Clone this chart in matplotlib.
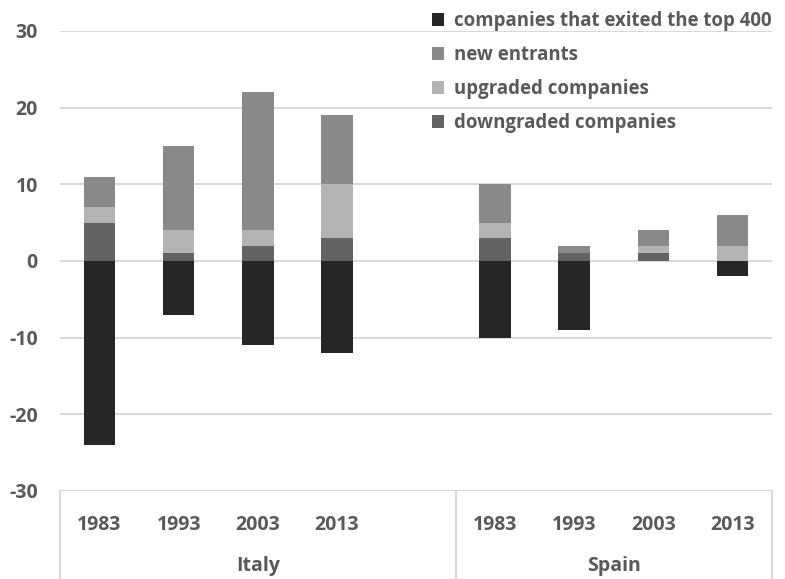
import matplotlib
matplotlib.use("Agg")
import matplotlib.pyplot as plt
import matplotlib.transforms as mtransforms
import numpy as np

years = ["1983", "1993", "2003", "2013"]
countries = ["Italy", "Spain"]
series_names = ["companies that exited the top 400", "new entrants",
                "upgraded companies", "downgraded companies"]

# Italy then Spain, per year
exited = [-24, -7, -11, -12, -10, -9, 0, -2]
new_entrants = [4, 11, 18, 9, 5, 1, 2, 4]
upgraded = [2, 3, 2, 7, 2, 0, 1, 2]
downgraded = [5, 1, 2, 3, 3, 1, 1, 0]

colors = {"exited": "#262626", "new": "#898989", "up": "#b3b3b3", "down": "#636363"}
text_color = "#595959"
plt.rcParams['font.family'] = ['Open Sans', 'DejaVu Sans']
FS = 14
LFS = 13.4

W, H = 785, 579
fig = plt.figure(figsize=(W / 100, H / 100), dpi=100)
ax = fig.add_axes([60 / W, (H - 491) / H, 712 / W, 460 / H])

# slots: Italy 0..3, blank 4, Spain 5..8
pos = np.array([0, 1, 2, 3, 5, 6, 7, 8], dtype=float)
bw = 0.4
d = np.array(downgraded, float)
u = np.array(upgraded, float)
n = np.array(new_entrants, float)
e = np.array(exited, float)

h_exit = ax.bar(pos, e, bw, color=colors["exited"], zorder=3)
h_down = ax.bar(pos, d, bw, color=colors["down"], zorder=3)
h_up = ax.bar(pos, u, bw, bottom=d, color=colors["up"], zorder=3)
h_new = ax.bar(pos, n, bw, bottom=d + u, color=colors["new"], zorder=3)

ax.set_xlim(-0.5, 8.5)
ax.set_ylim(-30, 30)
ax.set_yticks([-30, -20, -10, 0, 10, 20, 30])
ax.set_yticklabels(["-30", "-20", "-10", "0", "10", "20", "30"])
for sp in ax.spines.values():
    sp.set_visible(False)
ax.grid(axis='y', color='#d9d9d9', linewidth=1.5, zorder=0)
ax.set_axisbelow(True)
ax.tick_params(axis='y', length=0, pad=16, labelsize=FS, labelcolor=text_color)
for lbl in ax.get_yticklabels():
    lbl.set_fontweight('bold')

ax.set_xticks(pos)
ax.set_xticklabels(years * 2)
ax.tick_params(axis='x', length=0, pad=17, labelsize=FS, labelcolor=text_color)
for lbl in ax.get_xticklabels():
    lbl.set_fontweight('bold')

# category box lines
trans = mtransforms.blended_transform_factory(ax.transData, ax.transAxes)
box_bottom = -(88 / 460)
for x in [-0.5, 4.5, 8.5]:
    ax.plot([x, x], [0, box_bottom], transform=trans, color='#d9d9d9',
            linewidth=1.5, clip_on=False)

ax.text(2.0, -(75 / 460), countries[0], transform=trans, ha='center', va='center',
        fontsize=FS, fontweight='bold', color=text_color)
ax.text(6.5, -(75 / 460), countries[1], transform=trans, ha='center', va='center',
        fontsize=FS, fontweight='bold', color=text_color)

leg = fig.legend([h_exit, h_new, h_up, h_down], series_names,
                 loc='upper left', bbox_to_anchor=(421 / W, 1 - 0 / H),
                 borderaxespad=0.2,
                 frameon=False, handlelength=0.65, handleheight=0.65,
                 handletextpad=0.55, labelspacing=0.75,
                 prop={'size': LFS, 'weight': 'bold'})
for t in leg.get_texts():
    t.set_color(text_color)

fig.savefig("out.png", dpi=100, facecolor='white')
